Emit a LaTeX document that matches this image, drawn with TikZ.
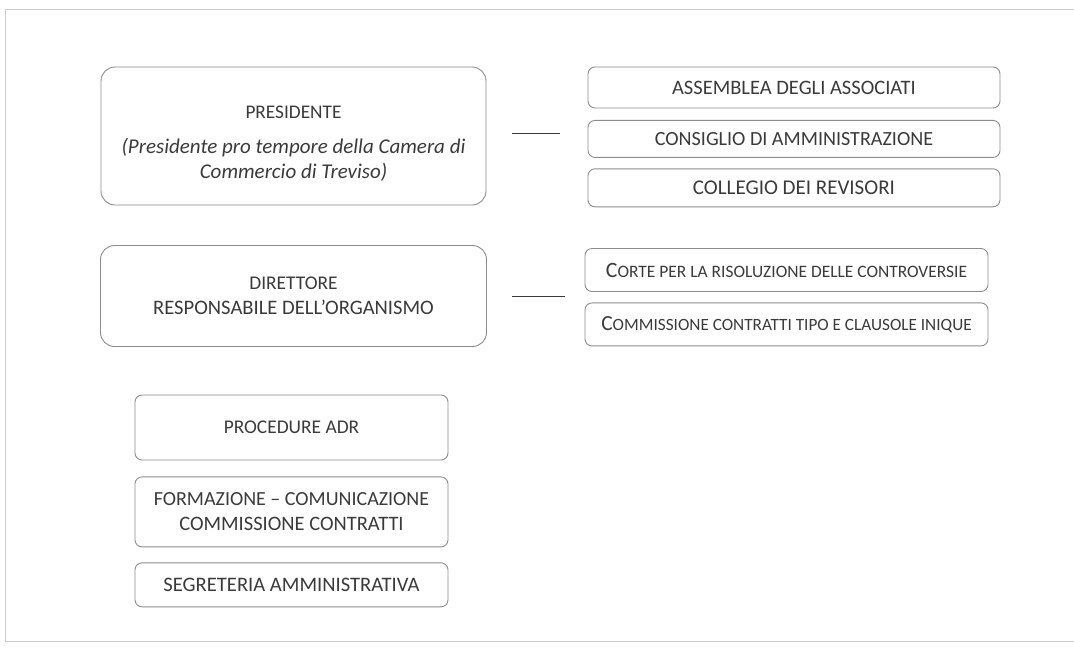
\documentclass[tikz,border=0pt]{standalone}
\usepackage{fontspec}
\setmainfont{Carlito}
\usetikzlibrary{positioning}
\definecolor{boxline}{HTML}{8C8C8C}
\definecolor{boxtext}{HTML}{3A3A3A}
\definecolor{frameline}{HTML}{CDCDCD}
\newcommand{\fsz}[1]{\fontsize{#1}{25}\selectfont}
\newcommand{\capsmall}[3]{{\fsz{#3}#1}{\fsz{\fpeval{0.8*#3}}#2}}

\begin{document}
\begin{tikzpicture}[x=1pt, y=1pt, node distance={10.5pt},
    every node/.style = {text=boxtext, font=\fsz{19.5}},
    bigbox/.style = {draw=boxline, line width=0.9pt, rounded corners=14pt, align=center, inner sep=0pt},
    smallbox/.style = {draw=boxline, line width=0.9pt, rounded corners=7pt, align=center, inner sep=0pt},
    link/.style = {draw=boxtext, line width=0.9pt}]
    \useasboundingbox (0,0) rectangle (1074,-649);
    % Frame
    \draw[frameline, line width=1pt] (1074,-9) -- (5,-9) -- (5,-641) -- (1074,-641);
    % Nodes
    \node[bigbox, minimum width=385pt, minimum height=138pt] (pres) at (293.5,-136)
        {\rule{0pt}{27pt}{\fsz{19.3}PRESIDENTE}\\[10pt]{\fsz{21}\itshape (Presidente pro tempore della Camera di}\\{\fsz{21}\itshape Commercio di Treviso)}};
    \node[smallbox, minimum width=412pt, minimum height=41pt] (ass) at (794,-87.5) {\fsz{20.5}ASSEMBLEA DEGLI ASSOCIATI};
    \node[smallbox, minimum width=412pt, minimum height=37pt] (cons) [below=11.5pt of ass] {\fsz{20.1}CONSIGLIO DI AMMINISTRAZIONE};
    \node[smallbox, minimum width=412pt, minimum height=38pt] (coll) [below=of cons] {\fsz{21}COLLEGIO DEI REVISORI};
    \node[bigbox, minimum width=386pt, minimum height=101pt] (dir) at (293.5,-296)
        {{\fsz{19.4}DIRETTORE}\\{\fsz{20.6}RESPONSABILE DELL’ORGANISMO}};
    \node[smallbox, minimum width=403pt, minimum height=43pt] (corte) at (786.5,-270)
        {\capsmall{C}{ORTE PER LA RISOLUZIONE DELLE CONTROVERSIE}{21.8}};
    \node[smallbox, minimum width=403pt, minimum height=43pt] (comm) [below=of corte]
        {\capsmall{C}{OMMISSIONE CONTRATTI TIPO E CLAUSOLE INIQUE}{21.5}};
    \node[smallbox, minimum width=313pt, minimum height=65pt] (adr) at (291.5,-427.5) {\fsz{19.4}PROCEDURE ADR};
    \node[smallbox, minimum width=313pt, minimum height=70pt] (form) [below=16pt of adr]
        {{\fsz{20}FORMAZIONE -- COMUNICAZIONE}\\{\fsz{20.5}COMMISSIONE CONTRATTI}};
    \node[smallbox, minimum width=313pt, minimum height=44pt] (segr) [below=15pt of form] {\fsz{20.6}SEGRETERIA AMMINISTRATIVA};
    % Edges
    \coordinate (p1) at (512,-133);
    \coordinate (p2) at (560,-133);
    \coordinate (d1) at (512,-296);
    \coordinate (d2) at (565,-296);
    \draw[link] (p1) -- (p2);
    \draw[link] (d1) -- (d2);
\end{tikzpicture}
\end{document}
